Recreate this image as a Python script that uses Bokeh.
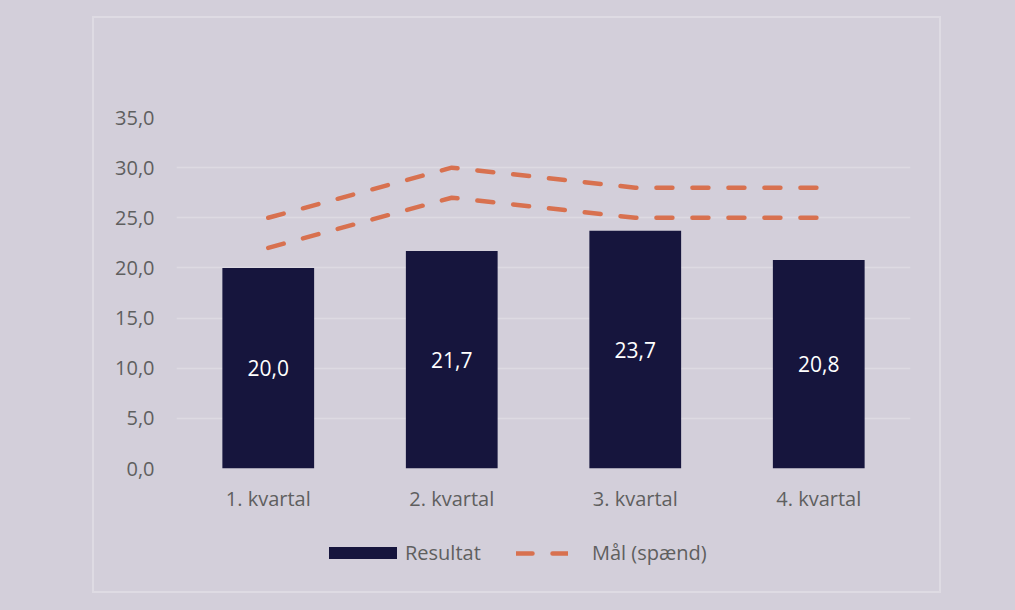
from bokeh.plotting import figure
from bokeh.layouts import column
from bokeh.models import (ColumnDataSource, Legend, LegendItem,
                          CustomJSTickFormatter, FixedTicker, Range1d)
from bokeh.core.properties import value
from bokeh.embed import file_html
from bokeh.resources import INLINE

# ---- data ----
categories = ["1. kvartal", "2. kvartal", "3. kvartal", "4. kvartal"]
resultat = [20.0, 21.7, 23.7, 20.8]
maal_hoej = [25.0, 30.0, 28.0, 28.0]
maal_lav = [22.0, 27.0, 25.0, 25.0]
y_ticks = [0, 5, 10, 15, 20, 25, 30, 35]
bar_labels = [f"{v:.1f}".replace(".", ",") for v in resultat]

FONT = "Open Sans"
BG = "#d3cfda"
NAVY = "#16153d"
ORANGE = "#d8714f"
GRAY = "#5f5f5f"
GRID = "#dddae2"
BORDER = "#dedbe3"

src = ColumnDataSource(dict(
    cat=categories, res=resultat, hi=maal_hoej, lo=maal_lav,
    mid=[v / 2 for v in resultat], lab=bar_labels,
))

# ---- main chart ----
p = figure(width=845, height=573, x_range=categories, y_range=Range1d(0, 35),
           output_backend="svg", toolbar_location=None,
           min_border_left=82, min_border_right=29,
           min_border_top=99, min_border_bottom=123)
p.background_fill_color = BG
p.border_fill_color = BG
p.outline_line_color = None
p.styles = {"box-shadow": f"0 0 0 2px {BORDER}",
            "transform": "translate(94px, 18px)"}

bar_style = dict(fill_color=NAVY, line_color=None)
line_style = dict(line_color=ORANGE, line_width=4.5, line_dash="16 20",
                  line_cap="round", line_join="round")

p.vbar(x="cat", top="res", width=0.5, source=src, **bar_style)
p.line(x="cat", y="hi", source=src, **line_style)
p.line(x="cat", y="lo", source=src, **line_style)

p.text(x="cat", y="mid", text="lab", source=src, text_color="white",
       text_font=value(FONT), text_font_size="21px",
       text_align="center", text_baseline="middle")

p.xgrid.grid_line_color = None
p.ygrid.grid_line_color = GRID
p.ygrid.grid_line_width = 1.5
p.yaxis.ticker = FixedTicker(ticks=y_ticks)
p.yaxis.formatter = CustomJSTickFormatter(code="return tick.toFixed(1).replace('.', ',');")
for ax in (p.xaxis[0], p.yaxis[0]):
    ax.axis_line_color = None
    ax.major_tick_line_color = None
    ax.minor_tick_line_color = None
    ax.major_tick_out = 0
    ax.major_tick_in = 0
    ax.major_label_text_font = FONT
    ax.major_label_text_font_size = "20px"
    ax.major_label_text_color = GRAY
p.yaxis.major_label_standoff = 22
p.xaxis.major_label_standoff = 16

# ---- legend strip (separate transparent figure laid over the chart's bottom) ----
lg = figure(width=845, height=30, x_range=Range1d(0, 1), y_range=Range1d(0, 1),
            output_backend="svg", toolbar_location=None,
            x_axis_type=None, y_axis_type=None,
            min_border=0, min_border_left=0, min_border_right=0,
            min_border_top=0, min_border_bottom=0)
lg.background_fill_alpha = 0
lg.border_fill_alpha = 0
lg.outline_line_color = None
lg.grid.visible = False
lg.styles = {"transform": "translate(94px, -36px)"}

# legend-only proxy renderers, kept outside the visible range of the strip
r_bar = lg.vbar(x=[-5.0], top=[-5.0], width=0.5, **bar_style)
r_line = lg.line(x=[-6.0, -5.0], y=[-5.0, -5.0], **line_style)

common = dict(orientation="horizontal", padding=0, margin=0, spacing=0,
              border_line_color=None, background_fill_alpha=0,
              label_text_font=FONT, label_text_font_size="20px",
              label_text_color=GRAY)
leg1 = Legend(items=[LegendItem(label="Resultat", renderers=[r_bar])],
              location=(144, 1), glyph_width=85, glyph_height=15,
              label_standoff=0, **common)
leg2 = Legend(items=[LegendItem(label="Mål (spænd)", renderers=[r_line])],
              location=(340, 1), glyph_width=52, glyph_height=12,
              label_standoff=24, **common)
lg.add_layout(leg1, "center")
lg.add_layout(leg2, "center")

page = column(p, lg, width=1015, styles={"background-color": BG, "height": "610px"})

open("out.html", "w").write(file_html(page, INLINE))
